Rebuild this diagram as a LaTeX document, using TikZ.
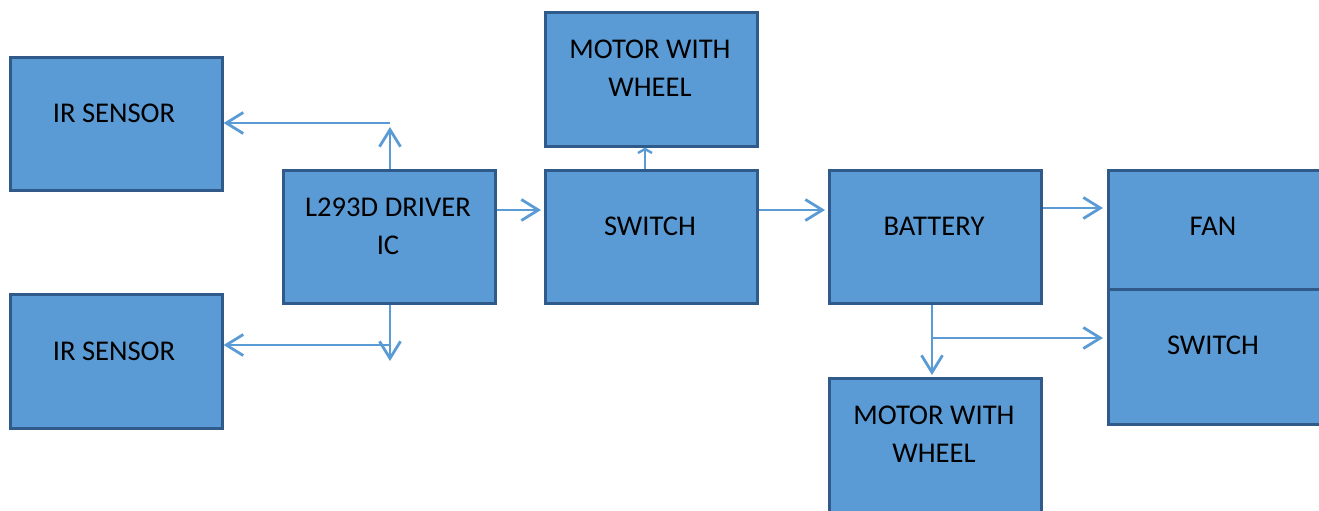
\documentclass[tikz,border=0pt]{standalone}
\usepackage{fontspec}
\setmainfont{Carlito}
\usetikzlibrary{arrows.meta}
\definecolor{boxfill}{HTML}{5B9BD5}
\definecolor{boxline}{HTML}{2F5A8A}
\definecolor{arrcol}{HTML}{5B9BD5}
\tikzset{
  box/.style={draw=boxline, fill=boxfill, line width=1.3pt, rectangle, anchor=north west, inner sep=0pt},
  txt/.style={font=\fontsize{14.3pt}{19pt}\selectfont, text=black, inner sep=0pt, align=center},
  arr/.style={draw=arrcol, line width=1.4pt, -{Straight Barb[length=8.5pt,width=10.5pt,line width=1.4pt]}},
  smallarr/.style={draw=arrcol, line width=1.2pt, -{Straight Barb[length=2pt,width=7pt,line width=1.2pt]}}
}
\begin{document}
\begin{tikzpicture}[x=0.5pt,y=-0.5pt]
\useasboundingbox (0,0) rectangle (1319,510);
% boxes
\node[box, minimum width=106pt, minimum height=66.5pt] (ir1) at (9,56) {};
\node[box, minimum width=106pt, minimum height=67pt] (ir2) at (9,293) {};
\node[box, minimum width=106pt, minimum height=66.5pt] (drv) at (282,169) {};
\node[box, minimum width=106pt, minimum height=67pt] (mot1) at (544,11) {};
\node[box, minimum width=106pt, minimum height=66.5pt] (sw1) at (544,169) {};
\node[box, minimum width=106pt, minimum height=66.5pt] (bat) at (828,169) {};
\node[box, minimum width=106pt, minimum height=59.5pt] (fan) at (1107,169) {};
\node[box, minimum width=106pt, minimum height=67.5pt] (sw2) at (1107,288) {};
\node[box, minimum width=106pt, minimum height=72pt] (mot2) at (828,377) {};
% texts
\node[txt] (ir1t) at (114,113) {IR SENSOR};
\node[txt] (ir2t) at (114,351) {IR SENSOR};
\node[txt] (drvt) at (388,226) {L293D DRIVER\\IC};
\node[txt] (mot1t) at (650,68) {MOTOR WITH\\WHEEL};
\node[txt] (sw1t) at (650,226) {SWITCH};
\node[txt] (batt) at (934,226) {BATTERY};
\node[txt] (fant) at (1213,226) {FAN};
\node[txt] (sw2t) at (1213,345) {SWITCH};
\node[txt] (mot2t) at (934,434) {MOTOR WITH\\WHEEL};
% junctions
\coordinate (j1) at (390,123);
\coordinate (j2) at (390,345);
\coordinate (j3) at (932,338);
\coordinate (jd1) at (390,127);
\coordinate (jd2) at (390,361);
% connectors
\draw[arr] (drv.north -| j1) -- (jd1);
\draw[arr] (j1) -- (j1 -| ir1.east);
\draw[arr] (drv.south -| j2) -- (jd2);
\draw[arr] (j2) -- (j2 -| ir2.east);
\draw[arr] ([yshift=-0pt]drv.east |- 0,210) -- ([xshift=-1.5pt]sw1.west |- 0,210);
\draw[smallarr] (sw1.north -| 645,0) -- (mot1.south -| 645,0);
\draw[arr] (sw1.east |- 0,210) -- ([xshift=-1.5pt]bat.west |- 0,210);
\draw[arr] (bat.east |- 0,208) -- ([xshift=-2pt]fan.west |- 0,208);
\draw[arr] (bat.south -| j3) -- ([yshift=1pt]mot2.north -| j3);
\draw[arr] (j3) -- ([xshift=-2pt]sw2.west |- j3);
\end{tikzpicture}
\end{document}
